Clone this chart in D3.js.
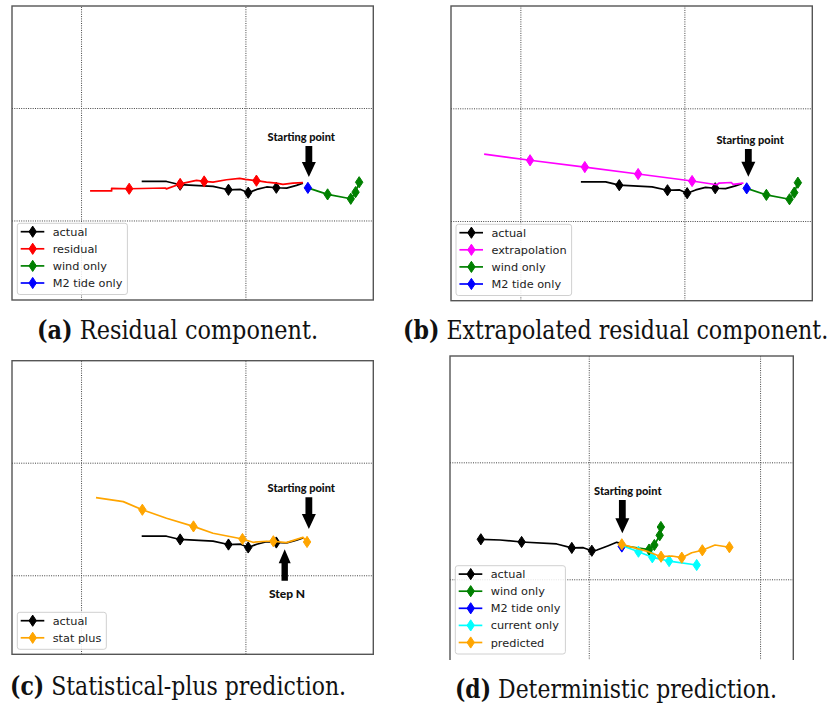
<!DOCTYPE html>
<html><head><meta charset="utf-8">
<script src="https://cdn.jsdelivr.net/npm/d3@7"></script>
<style>body{margin:0;background:#fff}svg{display:block}</style>
</head><body><svg id="chart" width="830" height="705"></svg>
<script>
// ---------------- DATA (grid units; grid lines at 1 and 2) ----------------
const gridX = [1, 2];
const gridY = [1, 2];

// shared track for panels a, b, c
const actualTrack = [[1.369,1.347],[1.520,1.347],[1.603,1.318],[1.803,1.303],[1.897,1.273],[1.971,1.276],[2.017,1.247],[2.069,1.276],[2.129,1.298],[2.188,1.291],[2.251,1.288],[2.311,1.312],[2.350,1.332]];
const actualMarks = [2,4,6,9];
const residualTrack = [[1.055,1.263],[1.186,1.263],[1.186,1.285],[1.293,1.282],[1.514,1.289],[1.519,1.281],[1.603,1.325],[1.702,1.356],[1.749,1.347],[1.803,1.341],[1.885,1.362],[1.965,1.374],[2.000,1.365],[2.067,1.354],[2.128,1.341],[2.188,1.332],[2.228,1.321],[2.289,1.332],[2.350,1.336]];
const residualMarks = [3,6,8,13];
const windTrack = [[2.380,1.290],[2.500,1.232],[2.641,1.193],[2.670,1.252],[2.692,1.340]];
const windMarks = [1,2,3,4];
const m2Track = [[2.380,1.290]];
const m2Marks = [0];
const extrapTrack = [[0.779,1.594],[1.059,1.539],[1.393,1.479],[1.718,1.417],[2.047,1.355],[2.198,1.322],[2.212,1.337],[2.285,1.342],[2.297,1.326],[2.360,1.337]];
const extrapMarks = [1,2,3,4];
const statPlusTrack = [[1.091,1.689],[1.257,1.654],[1.373,1.582],[1.520,1.506],[1.684,1.434],[1.803,1.373],[1.982,1.322],[2.046,1.293],[2.128,1.302],[2.170,1.302],[2.249,1.290],[2.350,1.337],[2.375,1.296]];
const statPlusMarks = [2,4,6,9,12];

// panel d
const actualDTrack = [[0.370,1.342],[0.482,1.336],[0.608,1.319],[0.813,1.302],[0.901,1.268],[0.968,1.270],[1.018,1.244],[1.048,1.250],[1.114,1.287],[1.163,1.316],[1.187,1.308]];
const actualDMarks = [0,2,4,6];
const windDTrack = [[1.193,1.289],[1.352,1.254],[1.383,1.293],[1.414,1.376],[1.421,1.447]];
const windDMarks = [1,2,3,4];
const m2DTrack = [[1.193,1.280]];
const m2DMarks = [0];
const currentDTrack = [[1.193,1.289],[1.290,1.236],[1.371,1.188],[1.469,1.156],[1.630,1.122]];
const currentDMarks = [1,2,3,4];
const predictedDTrack = [[1.193,1.299],[1.348,1.236],[1.422,1.193],[1.485,1.199],[1.543,1.185],[1.601,1.227],[1.663,1.248],[1.737,1.293],[1.821,1.274]];
const predictedDMarks = [0,2,4,6,8];

const captionLabels = ["(a)", "(b)", "(c)", "(d)"];
const captionTitles = ["Residual component.", "Extrapolated residual component.", "Statistical-plus prediction.", "Deterministic prediction."];

// ---------------- STYLE / LAYOUT ----------------
const COL = {actual:"#000000", residual:"#ff0000", wind:"#008000", m2:"#0000ff", extrap:"#ff00ff", stat:"#ffa500", current:"#00ffff"};

const panels = [
  { box:[12,6,373.3,300], xDom:[0.58,2.778], yDom:[0.293,2.907],
    series:[
      {name:"actual", data:actualTrack, marks:actualMarks, color:COL.actual},
      {name:"residual", data:residualTrack, marks:residualMarks, color:COL.residual},
      {name:"wind only", data:windTrack, marks:windMarks, color:COL.wind},
      {name:"M2 tide only", data:m2Track, marks:m2Marks, color:COL.m2}],
    legend:[17.3,223.3],
    notes:[{text:"Starting point", tip:[2.386,1.386], tailY:1.662, textX:2.340, dir:"down", size:11}],
    caption:{x:37, y:339, w:281} },
  { box:[451,6,812.3,300.7], xDom:[0.577,2.780], yDom:[0.293,2.908],
    series:[
      {name:"actual", data:actualTrack, marks:actualMarks, color:COL.actual},
      {name:"extrapolation", data:extrapTrack, marks:extrapMarks, color:COL.extrap},
      {name:"wind only", data:windTrack, marks:windMarks, color:COL.wind},
      {name:"M2 tide only", data:m2Track, marks:m2Marks, color:COL.m2}],
    legend:[456,224.3],
    notes:[{text:"Starting point", tip:[2.390,1.393], tailY:1.639, textX:2.401, dir:"down", size:11}],
    caption:{x:403, y:339, w:425} },
  { box:[12,360.7,373.3,654.3], xDom:[0.58,2.778], yDom:[0.298,2.906],
    series:[
      {name:"actual", data:actualTrack, marks:actualMarks, color:COL.actual},
      {name:"stat plus", data:statPlusTrack, marks:statPlusMarks, color:COL.stat}],
    legend:[17.3,612.3],
    notes:[{text:"Starting point", tip:[2.386,1.411], tailY:1.693, textX:2.340, dir:"down", size:11},
           {text:"Step N", tip:[2.239,1.231], tailY:0.952, textX:2.253, dir:"up", size:12}],
    caption:{x:10, y:695, w:336} },
  { box:[450,356,793.3,700], xDom:[0.19,2.194], yDom:[-0.032,2.909], clipBottom:660,
    series:[
      {name:"actual", data:actualDTrack, marks:actualDMarks, color:COL.actual},
      {name:"wind only", data:windDTrack, marks:windDMarks, color:COL.wind},
      {name:"M2 tide only", data:m2DTrack, marks:m2DMarks, color:COL.m2},
      {name:"current only", data:currentDTrack, marks:currentDMarks, color:COL.current},
      {name:"predicted", data:predictedDTrack, marks:predictedDMarks, color:COL.stat}],
    legend:[455.3,565.7],
    notes:[{text:"Starting point", tip:[1.196,1.393], tailY:1.678, textX:1.228, dir:"down", size:11}],
    caption:{x:455, y:698, w:322} }
];

const svg = d3.select("#chart");
const diamond = "M0,-5.6L3.7,0L0,5.6L-3.7,0Z";
const defs = svg.append("defs");

panels.forEach((p, i) => {
  const [L, T, R, B] = p.box;
  const x = d3.scaleLinear().domain(p.xDom).range([L, R]);
  const y = d3.scaleLinear().domain(p.yDom).range([B, T]);
  const g = svg.append("g");
  if (p.clipBottom) {
    defs.append("clipPath").attr("id", "clip" + i).append("rect")
      .attr("x", L - 3).attr("y", T - 3).attr("width", R - L + 6).attr("height", p.clipBottom - T + 3);
    g.attr("clip-path", `url(#clip${i})`);
  }
  // grid via axes
  const gx = g.append("g").attr("transform", `translate(0,${B})`)
    .call(d3.axisBottom(x).tickValues(gridX).tickSize(-(B - T)).tickFormat(""));
  const gy = g.append("g").attr("transform", `translate(${L},0)`)
    .call(d3.axisLeft(y).tickValues(gridY).tickSize(-(R - L)).tickFormat(""));
  [gx, gy].forEach(a => {
    a.select(".domain").remove();
    a.selectAll(".tick line").attr("stroke", "#444").attr("stroke-width", 1).attr("stroke-dasharray", "1,1.3");
  });
  // frame
  g.append("rect").attr("x", L).attr("y", T).attr("width", R - L).attr("height", B - T)
    .attr("fill", "none").attr("stroke", "#555").attr("stroke-width", 1.4);

  const line = d3.line().x(d => x(d[0])).y(d => y(d[1]));
  p.series.forEach(s => {
    g.append("path").attr("d", line(s.data)).attr("fill", "none")
      .attr("stroke", s.color).attr("stroke-width", 1.7).attr("stroke-linejoin", "round");
    g.selectAll(null).data(s.marks.map(k => s.data[k])).join("path")
      .attr("d", diamond).attr("transform", d => `translate(${x(d[0])},${y(d[1])})`)
      .attr("fill", s.color).attr("stroke", s.color).attr("stroke-width", 1);
  });

  // annotations
  p.notes.forEach(n => {
    const tx = x(n.tip[0]), ty = y(n.tip[1]), tailY = y(n.tailY);
    const s = n.dir === "down" ? 1 : -1;
    const headLen = n.dir === "down" ? 15 : 14, hw = n.dir === "down" ? 7 : 6, sw = n.dir === "down" ? 3.4 : 3.2;
    const hb = ty - s * headLen;
    const pts = [[tx - sw, tailY], [tx + sw, tailY], [tx + sw, hb], [tx + hw, hb], [tx, ty], [tx - hw, hb], [tx - sw, hb]];
    g.append("path").attr("d", "M" + pts.map(q => q.join(",")).join("L") + "Z").attr("fill", "#000");
    g.append("text").attr("x", x(n.textX)).attr("y", n.dir === "down" ? tailY - 5 : tailY + 17.5)
      .attr("text-anchor", "middle").attr("font-family", "Lato, 'Open Sans', sans-serif")
      .attr("font-weight", "900").attr("font-size", n.size).attr("fill", "#111").text(n.text);
  });

  // legend
  const [lx, ly] = p.legend;
  const lg = g.append("g");
  const box = lg.append("rect").attr("x", lx).attr("y", ly).attr("rx", 2.5)
    .attr("fill", "#fff").attr("fill-opacity", 0.85).attr("stroke", "#d0d0d0").attr("stroke-width", 1);
  let maxW = 0;
  p.series.forEach((s, k) => {
    const cy = ly + 8.4 + k * 17.1;
    lg.append("line").attr("x1", lx + 3.4).attr("x2", lx + 27).attr("y1", cy).attr("y2", cy)
      .attr("stroke", s.color).attr("stroke-width", 1.7);
    lg.append("path").attr("d", diamond).attr("transform", `translate(${lx + 15.4},${cy})`)
      .attr("fill", s.color).attr("stroke", s.color);
    const t = lg.append("text").attr("x", lx + 35.4).attr("y", cy + 4)
      .attr("font-family", "'DejaVu Sans', sans-serif").attr("font-size", 11.3).attr("fill", "#222").text(s.name);
    maxW = Math.max(maxW, t.node().getComputedTextLength());
  });
  box.attr("width", 35.4 + maxW + 5).attr("height", 8.4 + (p.series.length - 1) * 17.1 + 11.5);

  // caption (DejaVu Serif fitted to width, stretched vertically to match the taller original face)
  const cg = svg.append("g").attr("transform", `translate(${p.caption.x},${p.caption.y}) scale(1,1.2)`);
  const c = cg.append("text").attr("x", 0).attr("y", 0)
    .attr("font-family", "'DejaVu Serif', serif").attr("font-size", 20).attr("fill", "#111");
  c.append("tspan").attr("font-weight", "bold").text(captionLabels[i]);
  c.append("tspan").text(" " + captionTitles[i]);
  const w = c.node().getComputedTextLength();
  c.attr("font-size", 20 * p.caption.w / w);
});
</script></body></html>
